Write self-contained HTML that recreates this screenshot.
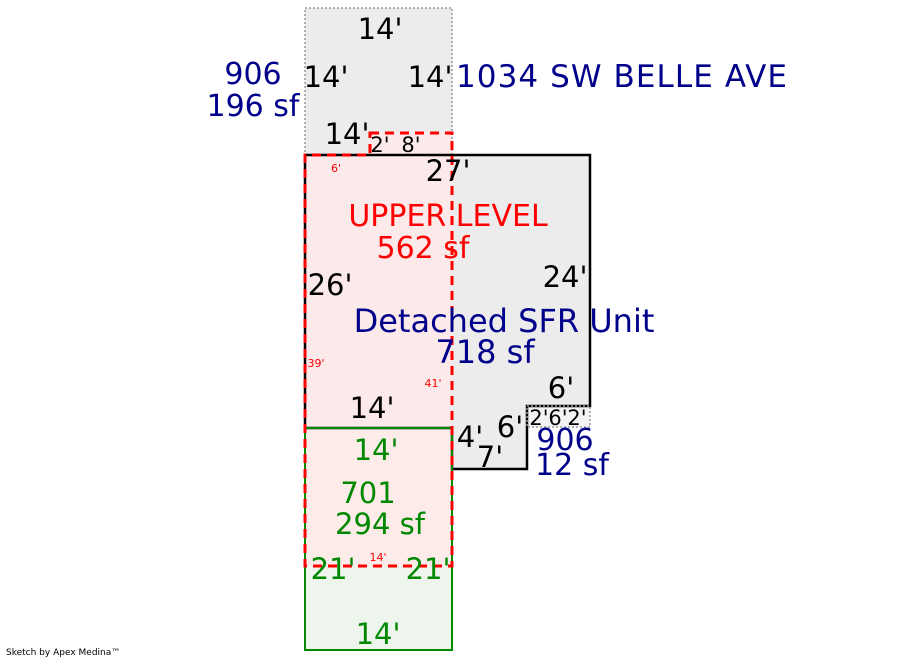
<!DOCTYPE html>
<html><head><style>body{margin:0;background:#fff}svg{display:block}text{font-family:"DejaVu Sans",Verdana,sans-serif}</style></head><body>
<svg width="900" height="660" viewBox="0 0 900 660" xmlns="http://www.w3.org/2000/svg">
<rect x="305" y="8" width="147" height="147" fill="#ececec"/>
<polygon points="305,155 590,155 590,406 527,406 527,469 452,469 452,428 305,428" fill="#ececec"/>
<rect x="527" y="406" width="63" height="21" fill="#f3f3f3"/>
<rect x="305" y="428" width="147" height="222" fill="#edf5ed"/>
<polygon points="370,133 452,133 452,566 305,566 305,155 370,155" fill="#ffe9e9" fill-opacity="0.85"/>
<rect x="305" y="8" width="147" height="147" fill="none" stroke="#999" stroke-width="1.5" stroke-dasharray="2,2"/>
<polygon points="305,155 590,155 590,406 527,406 527,469 452,469 452,428 305,428" fill="none" stroke="#000" stroke-width="2.5"/>
<rect x="527" y="406" width="63" height="21" fill="none" stroke="#999" stroke-width="1.5" stroke-dasharray="2,2"/>
<rect x="305" y="428" width="147" height="222" fill="none" stroke="#080" stroke-width="2"/>
<polygon points="370,133 452,133 452,566 305,566 305,155 370,155" fill="none" stroke="#f00" stroke-width="3" stroke-dasharray="9,6"/>
<g font-size="29" fill="#000" text-anchor="middle">
<text x="380" y="39">14'</text>
<text x="326" y="87">14'</text>
<text x="430" y="87">14'</text>
<text x="347" y="144">14'</text>
<text x="448" y="181">27'</text>
<text x="330" y="295">26'</text>
<text x="565" y="287">24'</text>
<text x="372" y="418">14'</text>
<text x="561" y="398">6'</text>
<text x="470" y="447">4'</text>
<text x="510" y="437">6'</text>
<text x="490" y="467">7'</text>
</g>
<g font-size="21" fill="#000" text-anchor="middle">
<text x="380" y="152">2'</text>
<text x="411" y="152">8'</text>
<text x="539" y="425">2'</text>
<text x="558" y="425">6'</text>
<text x="577" y="425">2'</text>
</g>
<g font-size="11" fill="#f00" text-anchor="middle">
<text x="336" y="172">6'</text>
<text x="316" y="367">39'</text>
<text x="433" y="387">41'</text>
<text x="378" y="561">14'</text>
</g>
<g font-size="30" fill="#f00" text-anchor="middle">
<text x="448" y="226">UPPER LEVEL</text>
<text x="423" y="258">562 sf</text>
</g>
<g font-size="32" fill="#00008b">
<text x="504" y="332" text-anchor="middle">Detached SFR Unit</text>
<text x="485" y="363" text-anchor="middle">718 sf</text>
<text x="456" y="87" font-size="31" textLength="331">1034 SW BELLE AVE</text>
</g>
<g font-size="30" fill="#00008b" text-anchor="middle">
<text x="253" y="84">906</text>
<text x="253" y="116">196 sf</text>
<text x="565" y="450">906</text>
<text x="572" y="475">12 sf</text>
</g>
<g font-size="29" fill="#080" text-anchor="middle">
<text x="376" y="460">14'</text>
<text x="368" y="503">701</text>
<text x="380" y="534">294 sf</text>
<text x="333" y="579">21'</text>
<text x="428" y="579">21'</text>
<text x="378" y="644">14'</text>
</g>
<text x="6" y="655" font-size="9" fill="#000">Sketch by Apex Medina™</text>
</svg>
</body></html>
